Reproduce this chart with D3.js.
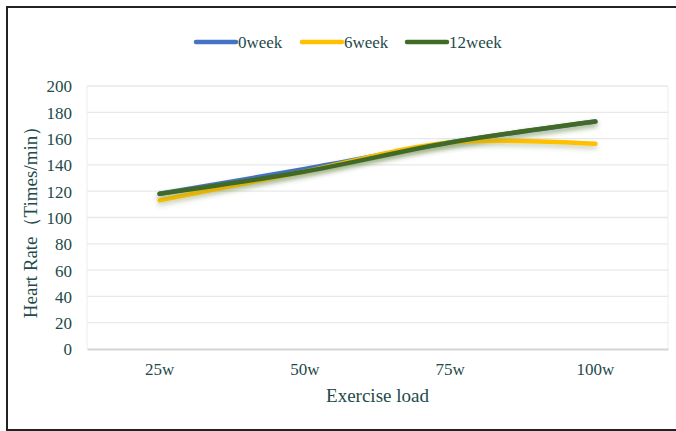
<!DOCTYPE html>
<html><head><meta charset="utf-8">
<script src="https://cdn.jsdelivr.net/npm/d3@7"></script>
<style>body{margin:0;background:#fff}svg{display:block}</style>
</head><body>
<script>
const categories = ["25w","50w","75w","100w"];
const seriesNames = ["0week","6week","12week"];
const week0 = [118, 137, 157, 173];
const week6 = [113, 135, 157, 156];
const week12 = [118, 135, 157, 173];
const yTicks = [0,20,40,60,80,100,120,140,160,180,200];
const colors = ["#4472C4","#FFC000","#3F6B26"];
const series = [week0, week6, week12];

(function(){
const W = 676, H = 431;
const txt = "#1e4a4a";
const font = "'Liberation Serif','Times New Roman',serif";
const svg = d3.select("body").append("svg").attr("width", W).attr("height", H);

// outer frame
svg.append("line").attr("x1",7).attr("x2",W).attr("y1",7).attr("y2",7).attr("stroke","#222").attr("stroke-width",2);
svg.append("line").attr("x1",7).attr("x2",7).attr("y1",6).attr("y2",430).attr("stroke","#222").attr("stroke-width",2);
svg.append("line").attr("x1",6).attr("x2",W).attr("y1",430).attr("y2",430).attr("stroke","#222").attr("stroke-width",2);

const pL = 87, pR = 668, pT = 86, pB = 349;
const x = d3.scaleBand().domain(categories).range([pL, pR]);
const y = d3.scaleLinear().domain([0, 200]).range([pB, pT]);

const defs = svg.append("defs");
const f = defs.append("filter").attr("id","sh").attr("x","-10%").attr("y","-50%").attr("width","120%").attr("height","200%");
f.append("feGaussianBlur").attr("in","SourceAlpha").attr("stdDeviation",2.5).attr("result","b");
f.append("feOffset").attr("in","b").attr("dx",0).attr("dy",3).attr("result","o");
f.append("feFlood").attr("flood-color","#5a7a3a").attr("flood-opacity",0.35).attr("result","c");
f.append("feComposite").attr("in","c").attr("in2","o").attr("operator","in").attr("result","s");
const m = f.append("feMerge");
m.append("feMergeNode").attr("in","s");
m.append("feMergeNode").attr("in","SourceGraphic");

// gridlines
svg.append("g").selectAll("line").data(yTicks.filter(d=>d>0)).join("line")
  .attr("x1",pL).attr("x2",pR).attr("y1",d=>y(d)).attr("y2",d=>y(d))
  .attr("stroke","#e8e8e8").attr("stroke-width",1.3);
svg.append("line").attr("x1",pL).attr("x2",pL).attr("y1",pT).attr("y2",pB).attr("stroke","#ededed");
svg.append("line").attr("x1",pR).attr("x2",pR).attr("y1",pT).attr("y2",pB).attr("stroke","#ededed");

// y axis
const yAxis = svg.append("g").attr("transform",`translate(${pL - 15},0)`)
  .call(d3.axisLeft(y).tickValues(yTicks).tickSize(0).tickPadding(0));
yAxis.select(".domain").remove();
yAxis.selectAll("text").attr("font-family",font).attr("font-size",17).attr("fill",txt).attr("dy","0.35em");

// x axis
const xAxis = svg.append("g").attr("transform",`translate(0,${pB})`)
  .call(d3.axisBottom(x).tickSize(0).tickPadding(14));
xAxis.select(".domain").attr("stroke","#d4d4d4").attr("stroke-width",2);
xAxis.selectAll("text").attr("font-family",font).attr("font-size",17).attr("fill",txt);

// titles
svg.append("text").attr("x",(pL+pR)/2).attr("y",402).attr("text-anchor","middle")
  .attr("font-family",font).attr("font-size",19).attr("fill",txt).text("Exercise load");
svg.append("text").attr("transform",`translate(37,${(pT+pB)/2}) rotate(-90)`).attr("text-anchor","middle")
  .attr("font-family",font).attr("font-size",19).attr("fill",txt).text("Heart Rate（Times/min）");

// lines
const line = d3.line().x((d,i)=>x(categories[i]) + x.bandwidth()/2).y(d=>y(d)).curve(d3.curveCatmullRom.alpha(0.5));
svg.append("g").selectAll("path").data(series).join("path")
  .attr("d", d=>line(d)).attr("fill","none").attr("stroke",(d,i)=>colors[i])
  .attr("stroke-width",4.5).attr("stroke-linecap","round").attr("filter","url(#sh)");

// legend
const legendX = [196, 302, 407];
const lg = svg.append("g").selectAll("g").data(seriesNames).join("g")
  .attr("transform",(d,i)=>`translate(${legendX[i]},42)`);
lg.append("line").attr("x1",0).attr("x2",40).attr("y1",0).attr("y2",0)
  .attr("stroke",(d,i)=>colors[i]).attr("stroke-width",4.5).attr("stroke-linecap","round");
lg.append("text").attr("x",42).attr("y",0).attr("dy","0.35em").attr("font-family",font)
  .attr("font-size",17).attr("fill",txt).text(d=>d);
})();
</script>
</body></html>
